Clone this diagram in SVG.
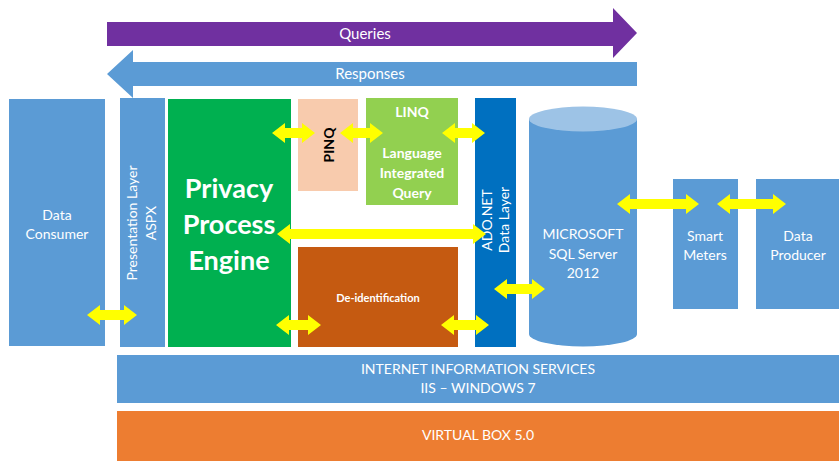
<svg xmlns="http://www.w3.org/2000/svg" width="839" height="461" viewBox="0 0 839 461">
<style>
text{font-family:Lato,"Open Sans","Liberation Sans",sans-serif;fill:#fff;text-anchor:middle}
.t14{font-size:14px}
.b{font-weight:bold}
.blue{fill:#5B9BD5}
.ya{fill:#FFFF00}
</style>
<rect width="839" height="461" fill="#fff"/>
<g id="queries">
<path d="M107,22 L613,22 L613,8 L637,33 L613,58 L613,46 L107,46 Z" fill="#7030A0"/>
<text x="365" y="39" font-size="15">Queries</text>
</g>
<g id="responses">
<path d="M637,62 L133,62 L133,50 L107,74 L133,98 L133,86 L637,86 Z" class="blue"/>
<text x="370" y="79" font-size="15">Responses</text>
</g>
<g id="data-consumer">
<rect x="9" y="99" width="96" height="247" class="blue"/>
<text x="57" y="220" class="t14">Data</text>
<text x="57" y="239" class="t14">Consumer</text>
</g>
<g id="presentation-layer">
<rect x="120" y="98" width="45" height="249" class="blue"/>
<text transform="translate(137,223) rotate(-90)" class="t14">Presentation Layer</text>
<text transform="translate(156,223) rotate(-90)" class="t14">ASPX</text>
</g>
<g id="privacy-engine">
<rect x="168" y="99" width="123" height="248" fill="#00B050"/>
<text x="229" y="198" class="b" font-size="27">Privacy</text>
<text x="229" y="234" class="b" font-size="27">Process</text>
<text x="229" y="270" class="b" font-size="27">Engine</text>
</g>
<g id="pinq">
<rect x="298" y="99" width="60" height="92" fill="#F8CBAD"/>
<text transform="translate(334,145) rotate(-90)" class="b" font-size="14" style="fill:#000">PINQ</text>
</g>
<g id="linq">
<rect x="366" y="98" width="92" height="107" fill="#92D050"/>
<text x="412" y="117" class="b t14">LINQ</text>
<text x="412" y="158" class="b t14">Language</text>
<text x="412" y="178" class="b t14">Integrated</text>
<text x="412" y="198" class="b t14">Query</text>
</g>
<g id="ado-net">
<rect x="475" y="98" width="41" height="249" fill="#0070C0"/>
<text transform="translate(492,220) rotate(-90)" class="t14">ADO.NET</text>
<text transform="translate(509,220) rotate(-90)" class="t14">Data Layer</text>
</g>
<g id="de-identification">
<rect x="298" y="247" width="160" height="100" fill="#C55A11"/>
<text x="378" y="302" class="b" font-size="11">De-identification</text>
</g>
<g id="sql-server">
<path d="M529,119 L529,334 A54,12.5 0 0 0 637,334 L637,119 Z" class="blue"/>
<ellipse cx="583" cy="119" rx="54" ry="12.5" fill="#9DC3E6"/>
<text x="583" y="239" class="t14">MICROSOFT</text>
<text x="583" y="259" class="t14">SQL Server</text>
<text x="583" y="278" class="t14">2012</text>
</g>
<g id="smart-meters">
<rect x="673" y="179" width="65" height="130" class="blue"/>
<text x="705" y="241" class="t14">Smart</text>
<text x="705" y="260" class="t14">Meters</text>
</g>
<g id="data-producer">
<rect x="756" y="179" width="83" height="130" class="blue"/>
<text x="798" y="241" class="t14">Data</text>
<text x="798" y="260" class="t14">Producer</text>
</g>
<g id="iis">
<rect x="117" y="355" width="722" height="48" class="blue"/>
<text x="478" y="374" class="t14">INTERNET INFORMATION SERVICES</text>
<text x="478" y="393" class="t14">IIS – WINDOWS 7</text>
</g>
<g id="virtual-box">
<rect x="117" y="411" width="722" height="50" fill="#ED7D31"/>
<text x="478" y="440" class="t14">VIRTUAL BOX 5.0</text>
</g>
<g id="connectors" class="ya">
<path d="M272,133 L285,123 L285,128 L302,128 L302,123 L315,133 L302,143 L302,138 L285,138 L285,143 Z"/>
<path d="M340,133 L353,123 L353,128 L370,128 L370,123 L383,133 L370,143 L370,138 L353,138 L353,143 Z"/>
<path d="M442,133 L455,123 L455,128 L472,128 L472,123 L485,133 L472,143 L472,138 L455,138 L455,143 Z"/>
<path d="M277,234 L290,224 L290,229 L473,229 L473,224 L486,234 L473,244 L473,239 L290,239 L290,244 Z"/>
<path d="M276,325 L289,315 L289,320 L308,320 L308,315 L321,325 L308,335 L308,330 L289,330 L289,335 Z"/>
<path d="M441,325 L454,315 L454,320 L476,320 L476,315 L489,325 L476,335 L476,330 L454,330 L454,335 Z"/>
<path d="M494,289 L507,279 L507,284 L532,284 L532,279 L545,289 L532,299 L532,294 L507,294 L507,299 Z"/>
<path d="M617,204 L630,194 L630,199 L686,199 L686,194 L699,204 L686,214 L686,209 L630,209 L630,214 Z"/>
<path d="M717,204 L730,194 L730,199 L773,199 L773,194 L786,204 L773,214 L773,209 L730,209 L730,214 Z"/>
<path d="M87,315 L100,305 L100,310 L124,310 L124,305 L137,315 L124,325 L124,320 L100,320 L100,325 Z"/>
</g>
</svg>
